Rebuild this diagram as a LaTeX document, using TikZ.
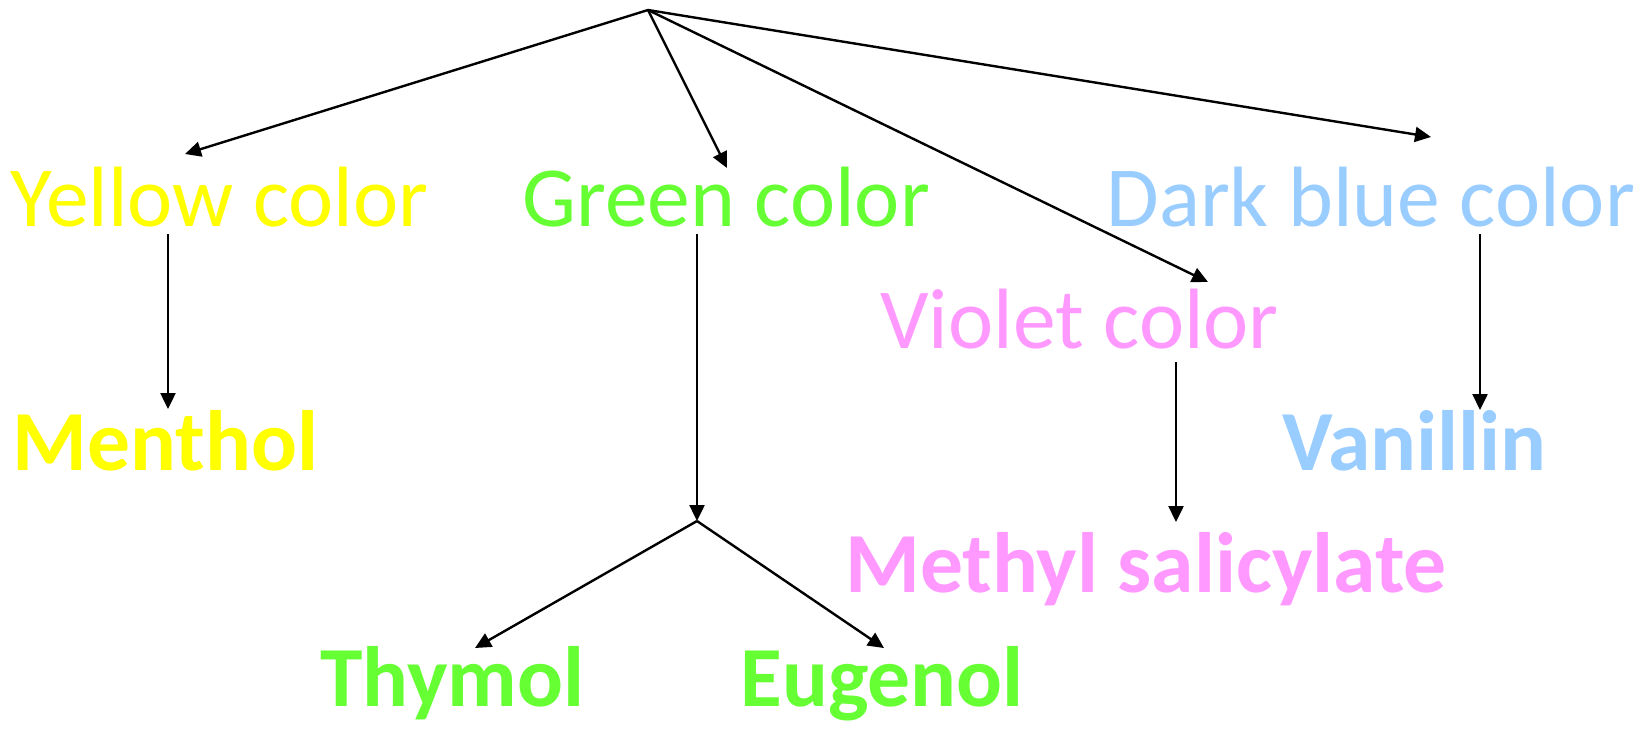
\documentclass[tikz,border=0pt]{standalone}
\usepackage{fontspec}
\setmainfont{Carlito}
\usetikzlibrary{arrows.meta}
\definecolor{cyellow}{HTML}{FFFF00}
\definecolor{cgreen}{HTML}{66FF33}
\definecolor{cblue}{HTML}{99CCFF}
\definecolor{cpink}{HTML}{FF99FF}
\tikzset{
  lbl/.style={inner sep=0pt, anchor=base west, font=\fontsize{42.8}{50}\selectfont},
  blbl/.style={inner sep=0pt, anchor=base west, font=\fontsize{42.8}{50}\selectfont\bfseries},
  conn/.style={line width=1.2pt, -{Triangle[length=8pt,width=7.5pt]}},
  link/.style={line width=1.2pt}
}
\begin{document}
\begin{tikzpicture}[x=0.5pt,y=-0.5pt]
\useasboundingbox (0,0) rectangle (1648,730);
% labels
\node[lbl, text=cyellow] (yellow) at (10,226) {Yellow color};
\node[lbl, text=cgreen] (green) at (522,226) {Green color};
\node[lbl, text=cblue] (blue) at (1106,226) {Dark blue color};
\node[lbl, text=cpink] (violet) at (880,348) {Violet color};
\node[blbl, text=cyellow] (menthol) at (12,470) {Menthol};
\node[blbl, text=cblue] (vanillin) at (1282,470) {Vanillin};
\node[blbl, text=cpink] (methyl) at (845,592) {Methyl salicylate};
\node[blbl, text=cgreen] (thymol) at (320,706) {Thymol};
\node[blbl, text=cgreen] (eugenol) at (740,706) {Eugenol};
% coordinates
\coordinate (top) at (648,10);
\coordinate (tY) at (185,154);
\coordinate (tG) at (727,168);
\coordinate (tV) at (1208,282);
\coordinate (tB) at (1431,137);
\coordinate (sY) at (168,234);
\coordinate (eY) at (168,409);
\coordinate (sG) at (697,234);
\coordinate (junc) at (697,521);
\coordinate (tT) at (475,648);
\coordinate (tE) at (884,648);
\coordinate (sV) at (1176,362);
\coordinate (eV) at (1176,522);
\coordinate (sB) at (1480,234);
\coordinate (eB) at (1480,410);
% connectors
\draw[conn] (top) -- (tY);
\draw[conn] (top) -- (tG);
\draw[conn] (top) -- (tV);
\draw[conn] (top) -- (tB);
\draw[conn] (sY) -- (eY);
\draw[conn] (sG) -- (junc);
\draw[conn] (junc) -- (tT);
\draw[conn] (junc) -- (tE);
\draw[conn] (sV) -- (eV);
\draw[conn] (sB) -- (eB);
\end{tikzpicture}
\end{document}
